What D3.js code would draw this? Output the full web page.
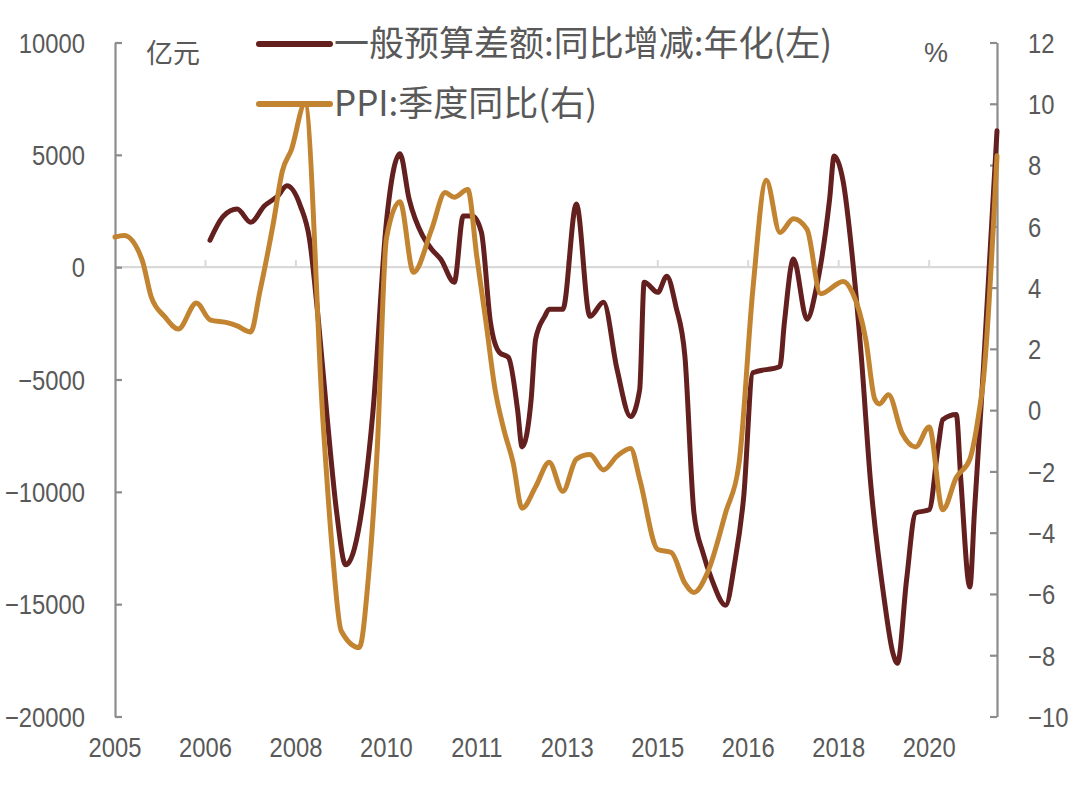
<!DOCTYPE html>
<html>
<head>
<meta charset="utf-8">
<script src="https://cdn.jsdelivr.net/npm/d3@7"></script>
<style>
  html, body { margin: 0; padding: 0; background: #fff; }
  svg { display: block; }
  .num { font-family: "Liberation Sans", Arial, sans-serif; fill: #595959; }
  .cjk { font-family: "Noto Sans CJK SC", "Noto Sans", sans-serif; fill: #595959; }
</style>
</head>
<body>
<svg id="chart" width="1080" height="810"></svg>
<script>
// ---------------- data ----------------
const budgetDates = ["2006-10","2007-01","2007-04","2007-07","2007-10","2008-01","2008-03","2008-06","2008-08","2008-10","2008-12","2009-02","2009-04","2009-08","2009-10","2010-01","2010-04","2010-06","2010-09","2010-11","2011-01","2011-04","2011-06","2011-08","2011-10","2011-12","2012-02","2012-04","2012-06","2012-07","2012-09","2012-10","2012-12","2013-01","2013-04","2013-07","2013-10","2014-01","2014-04","2014-07","2014-09","2014-10","2015-01","2015-03","2015-05","2015-07","2015-09","2015-11","2016-01","2016-04","2016-06","2016-08","2016-10","2017-04","2017-05","2017-07","2017-10","2017-12","2018-03","2018-04","2018-06","2018-08","2018-10","2018-12","2019-03","2019-05","2019-06","2019-08","2019-10","2020-01","2020-03","2020-04","2020-07","2020-08","2020-10","2020-11","2021-01","2021-04"];
const budgetValues = [1200,2280,2590,2000,2720,3170,3620,2720,1250,-2450,-6900,-10900,-13250,-10200,-6500,2000,5050,3050,1400,800,360,-670,2280,2280,1560,-2450,-3800,-4020,-6340,-8000,-5900,-3200,-2190,-1875,-1875,2810,-2190,-1560,-4550,-6650,-5450,-670,-1120,-400,-1740,-3970,-10940,-12720,-13930,-15050,-13170,-10220,-4700,-4420,-2450,360,-2320,-980,3040,4950,3800,490,-3970,-9460,-14690,-17190,-17630,-13930,-10940,-10800,-7990,-6790,-6560,-9460,-14240,-10940,-4500,6070];

const ppiDates = ["2005-01","2005-03","2005-07","2005-09","2005-12","2006-03","2006-07","2006-10","2007-02","2007-04","2007-07","2007-09","2007-12","2008-02","2008-04","2008-07","2008-11","2009-01","2009-03","2009-07","2009-09","2009-11","2010-01","2010-04","2010-07","2010-11","2011-02","2011-04","2011-07","2011-09","2011-11","2012-01","2012-03","2012-05","2012-07","2012-10","2013-01","2013-04","2013-07","2013-10","2014-01","2014-04","2014-07","2014-09","2015-01","2015-04","2015-07","2015-09","2015-12","2016-04","2016-07","2016-10","2017-01","2017-04","2017-07","2017-10","2018-01","2018-06","2018-08","2018-11","2019-01","2019-02","2019-04","2019-07","2019-10","2020-01","2020-04","2020-07","2020-10","2020-12","2021-01","2021-04"];
const ppiValues = [5.65,5.7,4.9,3.7,3.05,2.65,3.5,2.95,2.85,2.75,2.55,3.85,6.1,7.8,8.5,10.0,-0.4,-4.5,-7.2,-7.75,-5.5,-1.2,5.6,6.8,4.5,5.9,7.1,6.95,7.2,5.0,2.9,0.7,-0.65,-1.7,-3.2,-2.5,-1.7,-2.65,-1.6,-1.45,-1.95,-1.5,-1.25,-2.25,-4.55,-4.65,-5.65,-5.95,-5.3,-3.35,-1.7,3.9,7.5,5.8,6.25,5.9,3.8,4.2,3.85,2.3,0.35,0.2,0.5,-0.75,-1.2,-0.55,-3.25,-2.2,-1.6,-0.1,1.0,8.3];

const xTickDates = ["2005-01","2006-09","2008-05","2010-01","2011-09","2013-05","2015-01","2016-09","2018-05","2020-01"];
const xTickLabels = ["2005","2006","2008","2010","2011","2013","2015","2016","2018","2020"];
const leftTicks = [10000,5000,0,-5000,-10000,-15000,-20000];
const rightTicks = [12,10,8,6,4,2,0,-2,-4,-6,-8,-10];
const startDate = "2005-01", endDate = "2021-04";
const legendLabels = ["一般预算差额:同比增减:年化(左)", "PPI:季度同比(右)"];
const leftUnit = "亿元", rightUnit = "%";

// ---------------- helpers ----------------
const mIdx = s => { const [y, m] = s.split("-").map(Number); return (y - 2005) * 12 + (m - 1); };
const fmt = v => (v < 0 ? "\u2212" + Math.abs(v) : String(v));
// narrow the numeric labels to mimic the condensed digits of the original
function narrow(sel, k) {
  sel.each(function () {
    const w = this.getComputedTextLength();
    d3.select(this).attr("textLength", w * k).attr("lengthAdjust", "spacingAndGlyphs");
  });
}

const colRed = "#64201f", colOrange = "#c28430";
const axisCol = "#8c8c8c", zeroCol = "#d9d9d9";

const svg = d3.select("#chart");
svg.append("rect").attr("width", 1080).attr("height", 810).attr("fill", "#fff");

const x = d3.scaleLinear().domain([mIdx(startDate), mIdx(endDate)]).range([115, 997]);
const yL = d3.scaleLinear().domain([-20000, 10000]).range([716.5, 42.5]);
const yR = d3.scaleLinear().domain([-10, 12]).range([716.5, 42.5]);

// zero line (category axis) with upward ticks
svg.append("line").attr("x1", x.range()[0]).attr("x2", x.range()[1])
  .attr("y1", yL(0)).attr("y2", yL(0))
  .attr("stroke", zeroCol).attr("stroke-width", 2.2);
svg.append("g").selectAll("line").data(xTickDates.slice(1)).join("line")
  .attr("x1", d => x(mIdx(d))).attr("x2", d => x(mIdx(d)))
  .attr("y1", yL(0)).attr("y2", yL(0) - 7)
  .attr("stroke", zeroCol).attr("stroke-width", 2);

// x labels at the bottom
const xl = svg.append("g").selectAll("text").data(xTickDates).join("text")
  .attr("class", "num")
  .attr("x", d => x(mIdx(d))).attr("y", 757)
  .attr("text-anchor", "middle").attr("font-size", 28)
  .text((d, i) => xTickLabels[i]);
narrow(xl, 0.85);

// left axis
const gL = svg.append("g").attr("transform", "translate(115,0)")
  .call(d3.axisLeft(yL).tickValues(leftTicks).tickSize(-7).tickSizeOuter(0).tickPadding(30).tickFormat(fmt));
gL.attr("font-family", null).attr("font-size", null);
gL.select(".domain").attr("stroke", axisCol).attr("stroke-width", 2.2);
gL.selectAll(".tick line").attr("stroke", axisCol).attr("stroke-width", 2.2);
gL.selectAll(".tick text").attr("class", "num").attr("font-size", 28).attr("dy", "0.35em");
narrow(gL.selectAll(".tick text"), 0.85);

// right axis
const gR = svg.append("g").attr("transform", "translate(997,0)")
  .call(d3.axisRight(yR).tickValues(rightTicks).tickSize(-7).tickSizeOuter(0).tickPadding(31).tickFormat(fmt));
gR.attr("font-family", null).attr("font-size", null);
gR.select(".domain").attr("stroke", axisCol).attr("stroke-width", 2.2);
gR.selectAll(".tick line").attr("stroke", axisCol).attr("stroke-width", 2.2);
gR.selectAll(".tick text").attr("class", "num").attr("font-size", 28).attr("dy", "0.35em");
narrow(gR.selectAll(".tick text"), 0.85);

// series lines
const budget = budgetDates.map((d, i) => ({ m: mIdx(d), v: budgetValues[i] }));
const ppi = ppiDates.map((d, i) => ({ m: mIdx(d), v: ppiValues[i] }));

const lineL = d3.line().x(d => x(d.m)).y(d => yL(d.v)).curve(d3.curveMonotoneX);
const lineR = d3.line().x(d => x(d.m)).y(d => yR(d.v)).curve(d3.curveMonotoneX);

svg.append("path").datum(budget).attr("d", lineL)
  .attr("fill", "none").attr("stroke", colRed).attr("stroke-width", 5)
  .attr("stroke-linejoin", "round").attr("stroke-linecap", "round");
svg.append("path").datum(ppi).attr("d", lineR)
  .attr("fill", "none").attr("stroke", colOrange).attr("stroke-width", 5)
  .attr("stroke-linejoin", "round").attr("stroke-linecap", "round");

// units
svg.append("text").attr("class", "cjk").attr("x", 146).attr("y", 63).attr("font-size", 27).text(leftUnit);
svg.append("text").attr("class", "num").attr("x", 936).attr("y", 62).attr("text-anchor", "middle").attr("font-size", 27).text(rightUnit);

// legend
const legendCols = [colRed, colOrange];
const legendY = [44, 104];
legendLabels.forEach((lab, i) => {
  svg.append("line").attr("x1", 259).attr("x2", 330).attr("y1", legendY[i]).attr("y2", legendY[i])
    .attr("stroke", legendCols[i]).attr("stroke-width", 6).attr("stroke-linecap", "round");
  svg.append("text").attr("class", "cjk").attr("x", 334).attr("y", legendY[i] + 12)
    .attr("font-size", 35).text(lab);
});
</script>
</body>
</html>
